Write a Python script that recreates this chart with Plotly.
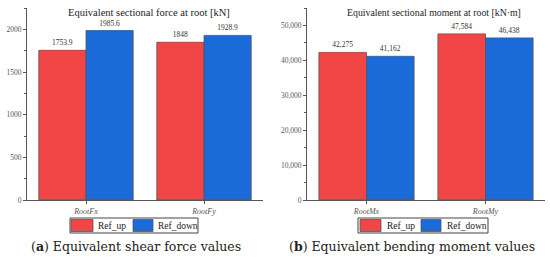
import plotly.graph_objects as go

force_cats = ["RootFx", "RootFy"]
force_up = [1753.9, 1848]
force_down = [1985.6, 1928.9]
force_up_lbl = ["1753.9", "1848"]
force_down_lbl = ["1985.6", "1928.9"]

moment_cats = ["RootMx", "RootMy"]
moment_up = [42275, 47584]
moment_down = [41162, 46438]

series_names = ["Ref_up", "Ref_down"]
red = "#F24646"
blue = "#1A6AD9"
serif = "Liberation Serif"
W, H = 550, 260


def px(x, y):
    return x / W, 1 - y / H


fig = go.Figure()

lbl_font = dict(family=serif, size=7.5, color="#333")
bar_line = dict(color="#555", width=0.8)
fig.add_trace(go.Bar(x=force_cats, y=force_up, name=series_names[0], marker=dict(color=red, line=bar_line),
                     text=force_up_lbl, textposition="outside", textfont=lbl_font,
                     cliponaxis=False, xaxis="x", yaxis="y", showlegend=False))
fig.add_trace(go.Bar(x=force_cats, y=force_down, name=series_names[1], marker=dict(color=blue, line=bar_line),
                     text=force_down_lbl, textposition="outside", textfont=lbl_font,
                     cliponaxis=False, xaxis="x", yaxis="y", showlegend=False))
fig.add_trace(go.Bar(x=moment_cats, y=moment_up, name=series_names[0], marker=dict(color=red, line=bar_line),
                     texttemplate="%{y:,}", textposition="outside", textfont=lbl_font,
                     cliponaxis=False, xaxis="x2", yaxis="y2", showlegend=False))
fig.add_trace(go.Bar(x=moment_cats, y=moment_down, name=series_names[1], marker=dict(color=blue, line=bar_line),
                     texttemplate="%{y:,}", textposition="outside", textfont=lbl_font,
                     cliponaxis=False, xaxis="x2", yaxis="y2", showlegend=False))

ax = dict(showline=True, linecolor="#555", linewidth=1, showgrid=False, zeroline=False, automargin=False,
          ticks="outside", ticklen=3, tickcolor="#555")
xfont = dict(family=serif, size=8, color="#555", style="italic")
yfont = dict(family=serif, size=7.5, color="#555")
ydom = [1 - 200 / H, 1 - 8 / H]

# manual legends (box, swatches, labels)
shapes = []
annotations = []
for x0, x1, sw in [(70, 198, [(71, 93, 96), (133, 153, 156)]), (358, 488, [(360, 381, 385), (421, 441, 445)])]:
    a, b = px(x0, 218)
    c, d = px(x1, 233)
    shapes.append(dict(type="rect", xref="paper", yref="paper", x0=a, y0=d, x1=c, y1=b,
                       line=dict(color="#444", width=1), fillcolor="white"))
    for (s0, s1, tx), col, nm in zip(sw, [red, blue], series_names):
        a, b = px(s0, 219.5)
        c, d = px(s1, 231.5)
        shapes.append(dict(type="rect", xref="paper", yref="paper", x0=a, y0=d, x1=c, y1=b,
                           line=dict(color="#555", width=0.8), fillcolor=col))
        tx_, ty_ = px(tx, 225.5)
        annotations.append(dict(text=nm, x=tx_, y=ty_, xref="paper", yref="paper", xanchor="left",
                                yanchor="middle", showarrow=False, font=dict(family=serif, size=9.5, color="#222")))

for txt, cx, cy, sz, fam in [
    ("Equivalent sectional force at root [kN]", 149, 12, 10.5, serif),
    ("Equivalent sectional moment at root [kN·m]", 434, 12, 9.8, serif),
    ("(<b>a</b>) Equivalent shear force values", 136, 246, 12.5, "DejaVu Serif"),
    ("(<b>b</b>) Equivalent bending moment values", 412, 246, 12.5, "DejaVu Serif"),
]:
    x_, y_ = px(cx, cy)
    annotations.append(dict(text=txt, x=x_, y=y_, xref="paper", yref="paper", xanchor="center", yanchor="middle",
                            showarrow=False, font=dict(family=fam, size=sz, color="#222")))

fig.update_layout(
    width=W, height=H, margin=dict(l=0, r=0, t=0, b=0),
    paper_bgcolor="white", plot_bgcolor="white",
    barmode="group", bargap=0.2, bargroupgap=0,
    font=dict(family=serif, color="#333"),
    uniformtext=dict(minsize=7, mode="show"),
    showlegend=False,
    xaxis=dict(domain=[27 / W, 263 / W], range=[-0.5, 1.5], anchor="y", tickfont=xfont, **ax),
    yaxis=dict(domain=ydom, range=[0, 2250], tickvals=[0, 500, 1000, 1500, 2000], anchor="x", tickfont=yfont,
               minor=dict(ticks="outside", ticklen=2, dtick=250, tickcolor="#555"), **ax),
    xaxis2=dict(domain=[307 / W, 545 / W], range=[-0.5, 1.5], anchor="y2", tickfont=xfont, **ax),
    yaxis2=dict(domain=ydom, range=[0, 55000], tickvals=[0, 10000, 20000, 30000, 40000, 50000], tickformat=",",
                anchor="x2", tickfont=yfont,
                minor=dict(ticks="outside", ticklen=2, dtick=5000, tickcolor="#555"), **ax),
    shapes=shapes,
    annotations=annotations,
)

fig.write_html("out.html", config={"displayModeBar": False},
               post_script="document.body.style.margin='0';document.body.style.overflow='hidden';")
